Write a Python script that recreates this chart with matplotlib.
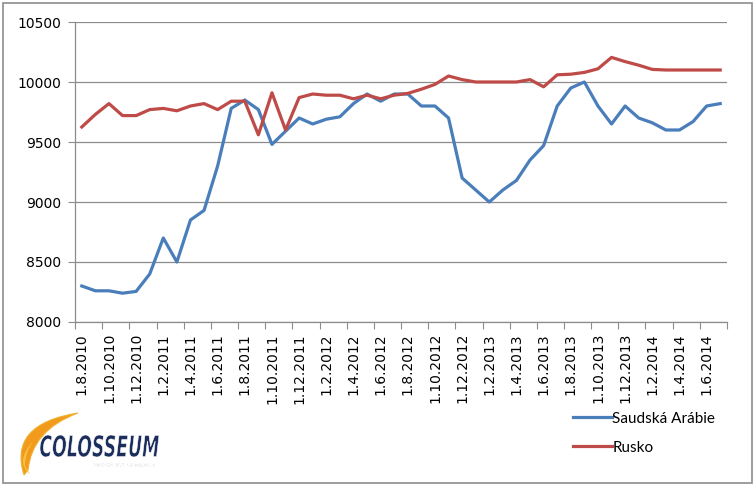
# Oil production chart: Saudi Arabia vs Russia, monthly 8/2010 - 7/2014
import matplotlib
matplotlib.use("Agg")
import matplotlib.pyplot as plt
from matplotlib.patches import Rectangle, PathPatch
from matplotlib.path import Path
from matplotlib.textpath import TextPath
from matplotlib.font_manager import FontProperties
from matplotlib.transforms import Affine2D, IdentityTransform

# monthly values, 1.8.2010 .. 1.7.2014 (48 months)
saudi = [8300, 8260, 8260, 8240, 8255, 8400, 8700, 8500, 8850, 8930,
         9300, 9780, 9850, 9770, 9480, 9590, 9700, 9650, 9690, 9710,
         9820, 9900, 9840, 9900, 9900, 9800, 9800, 9700, 9200, 9100,
         9000, 9100, 9180, 9350, 9470, 9800, 9950, 10000, 9800, 9650,
         9800, 9700, 9660, 9600, 9600, 9670, 9800, 9820]
rusko = [9625, 9730, 9820, 9720, 9720, 9770, 9780, 9760, 9800, 9820,
         9770, 9840, 9840, 9560, 9910, 9600, 9870, 9900, 9890, 9890,
         9860, 9890, 9860, 9890, 9905, 9940, 9980, 10050, 10020, 10000,
         10000, 10000, 10000, 10020, 9960, 10060, 10065, 10080, 10110, 10205,
         10170, 10140, 10105, 10100, 10100, 10100, 10100, 10100]

tick_labels = ["1.8.2010", "1.10.2010", "1.12.2010", "1.2.2011", "1.4.2011",
               "1.6.2011", "1.8.2011", "1.10.2011", "1.12.2011", "1.2.2012",
               "1.4.2012", "1.6.2012", "1.8.2012", "1.10.2012", "1.12.2012",
               "1.2.2013", "1.4.2013", "1.6.2013", "1.8.2013", "1.10.2013",
               "1.12.2013", "1.2.2014", "1.4.2014", "1.6.2014"]

blue = "#4a7ebb"
red = "#be4b48"
grid_col = "#8c8c8c"
H = 487  # figure height in px, used to place things by pixel from the top

fig = plt.figure(figsize=(7.56, 4.87), dpi=100)
ax = fig.add_axes([75/756, 1 - 322/H, 652/756, 300/H])

x = list(range(len(saudi)))
ax.plot(x, saudi, color=blue, lw=2.3, label="Saudská Arábie", solid_joinstyle="round")
ax.plot(x, rusko, color=red, lw=2.3, label="Rusko", solid_joinstyle="round")

ax.set_xlim(-0.5, len(saudi) - 0.5)
ax.set_ylim(8000, 10500)
ax.set_yticks(range(8000, 10501, 500))
ax.yaxis.grid(True, color=grid_col, lw=0.9)
ax.set_axisbelow(True)

# tick marks on category boundaries, labels on every 2nd category
ax.set_xticks([i - 0.5 for i in range(0, len(saudi) + 1, 2)])
ax.set_xticks(range(0, len(saudi), 2), minor=True)
ax.set_xticklabels([])
ax.set_xticklabels(tick_labels, minor=True, rotation=90, fontsize=10,
                   va="top", ha="center")
ax.tick_params(axis="x", which="major", length=5, color=grid_col, direction="out")
ax.tick_params(axis="x", which="minor", length=0, pad=8)
ax.tick_params(axis="y", length=5, color=grid_col, labelsize=10, pad=5)

for s in ["top", "right"]:
    ax.spines[s].set_visible(False)
for s in ["left", "bottom"]:
    ax.spines[s].set_color(grid_col)
    ax.spines[s].set_linewidth(0.9)

leg = fig.legend(loc="upper left", bbox_to_anchor=(559/756, 1 - 398/H),
                 frameon=False, handlelength=2.6, handletextpad=0.0,
                 labelspacing=0.98, prop={"family": "Lato", "size": 11})

# outer frame
fig.patches.append(Rectangle((3/756, 4/H), 749/756, 480/H, transform=fig.transFigure,
                             fill=False, edgecolor="#8c8c8c", lw=1.2))

# rough logo: orange crescent swoosh + squeezed text (pixel coords)
def px(xp, yp):
    return (xp, H - yp)

swoosh = [px(78, 413), px(8, 424), px(24, 475), px(28, 470),
          px(32, 430), px(78, 413), px(78, 413)]
codes = [Path.MOVETO, Path.CURVE3, Path.CURVE3, Path.LINETO,
         Path.CURVE3, Path.CURVE3, Path.CLOSEPOLY]
fig.patches.append(PathPatch(Path(swoosh, codes), transform=IdentityTransform(),
                             facecolor="#f29a1c", edgecolor="#f0b030", lw=0.8))
swoosh2 = [px(34, 440), px(14, 462), px(30, 474), px(25, 466),
           px(25, 452), px(34, 440), px(34, 440)]
fig.patches.append(PathPatch(Path(swoosh2, codes), transform=IdentityTransform(),
                             facecolor="#f7c040", edgecolor="none"))


def squeezed_text(s, x0, y_top, w, h, color, weight="bold"):
    tp = TextPath((0, 0), s, size=10,
                  prop=FontProperties(family="DejaVu Sans", weight=weight, style="italic"))
    ext = tp.get_extents()
    tr = (Affine2D().translate(-ext.x0, -ext.y0)
          .scale(w / ext.width, h / ext.height)
          .translate(x0, H - y_top - h))
    fig.patches.append(PathPatch(tr.transform_path(tp), transform=IdentityTransform(),
                                 facecolor=color, edgecolor="white", lw=0.4))


squeezed_text("COLOSSEUM", 40, 435, 119, 22, "#1a2d5c")
squeezed_text("FINANCIAL MARKETS", 94, 463, 61, 4, "#5a6a8a", weight="normal")

fig.savefig("out.png", dpi=100)
